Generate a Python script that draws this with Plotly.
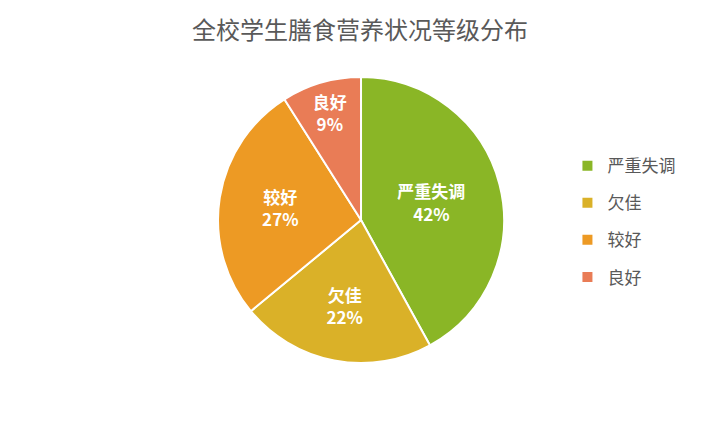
import plotly.graph_objects as go

# categories and shares (%)
labels = ["严重失调", "欠佳", "较好", "良好"]
values = [42, 22, 27, 9]
colors = ["#8AB626", "#DAB128", "#ED9A24", "#E97C56"]

font_cn = "Microsoft YaHei, Noto Sans CJK SC, sans-serif"

fig = go.Figure()
fig.add_trace(go.Pie(
    labels=labels,
    values=values,
    sort=False,
    direction="clockwise",
    rotation=0,
    showlegend=False,
    marker=dict(colors=colors, line=dict(color="white", width=2)),
    texttemplate="<b>%{label}<br>%{percent:.0%}</b>",
    textposition="inside",
    insidetextorientation="horizontal",
    textfont=dict(family=font_cn, size=17, color="white"),
    hovertemplate="%{label}: %{percent:.0%}<extra></extra>",
    domain=dict(x=[0.2917, 0.6889], y=[0.202, 0.845]),
))

# legend entries (one per category, so the row gap can be set)
for lab, col in zip(labels, colors):
    fig.add_trace(go.Scatter(
        x=[None], y=[None], mode="markers", name=lab, legendgroup=lab,
        marker=dict(symbol="square", size=10, color=col),
    ))

fig.update_layout(
    width=720, height=445,
    margin=dict(l=0, r=0, t=0, b=0),
    paper_bgcolor="white",
    plot_bgcolor="white",
    xaxis=dict(visible=False),
    yaxis=dict(visible=False),
    title=dict(text="全校学生膳食营养状况等级分布", x=0.489, xanchor="center",
               y=0.95, yanchor="middle",
               font=dict(family=font_cn, size=24, color="#595959")),
    legend=dict(x=0.777, y=0.52, xanchor="left", yanchor="middle",
                tracegroupgap=12, itemwidth=30,
                font=dict(family=font_cn, size=17, color="#595959")),
)

fig.write_html("out.html")
